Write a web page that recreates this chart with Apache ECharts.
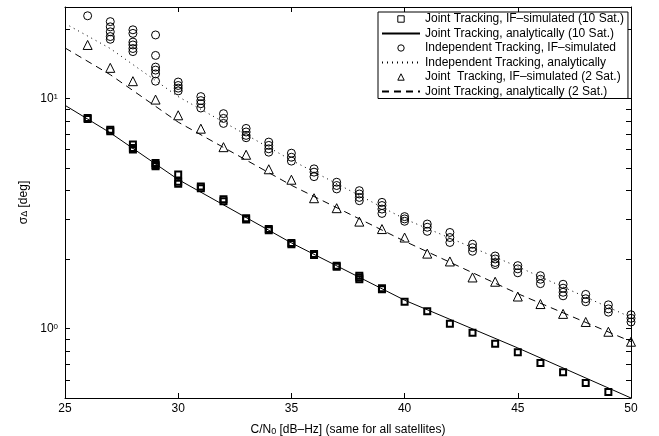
<!DOCTYPE html>
<html>
<head>
<meta charset="utf-8">
<script src="https://cdn.jsdelivr.net/npm/echarts@6.0.0/dist/echarts.min.js"></script>
<style>
html, body { margin: 0; padding: 0; background: #fff; }
#chart { width: 659px; height: 436px; }
</style>
</head>
<body>
<div id="chart"></div>
<script>
// C/N0 values of the simulated runs
var cn0 = [26, 27, 28, 29, 30, 31, 32, 33, 34, 35, 36, 37, 38, 39, 40, 41, 42, 43, 44, 45, 46, 47, 48, 49, 50];

// joint tracking, IF-simulated (10 Sat.) - several runs per C/N0
var joint10Sim = [
    [8.23, 8.15], [7.33, 7.22], [6.01, 6.32, 6.1], [5.08, 5.25, 5.15], [4.26, 4.68, 4.35],
    [4.08, 4.15], [3.58, 3.65], [2.98, 3.02], [2.71, 2.68], [2.33, 2.36],
    [2.11, 2.09], [1.88, 1.86], [1.67, 1.7, 1.64], [1.485, 1.5], [1.31],
    [1.19], [1.05], [0.96], [0.86], [0.79],
    [0.71], [0.647], [0.581], [0.531], [0.497]
];

// independent tracking, IF-simulated
var indepSim = [
    [22.9], [21.6, 20.5, 19.5, 18.6, 18.1], [19.9, 19.2, 17.6, 17.1, 16.5, 16.0], [18.9, 15.4, 13.7, 13.3, 12.8, 11.9], [11.8, 11.4, 11.1, 10.8],
    [10.2, 9.8, 9.5, 9.1], [8.6, 8.2, 7.8], [7.42, 7.16, 6.92, 6.76], [6.47, 6.26, 6.05, 5.85], [5.79, 5.56, 5.35],
    [4.95, 4.79, 4.58], [4.33, 4.19, 4.05], [3.98, 3.85, 3.72, 3.6], [3.54, 3.43, 3.31, 3.17], [3.07, 3.0, 2.93],
    [2.85, 2.76, 2.65], [2.62, 2.49, 2.37], [2.33, 2.25, 2.17], [2.07, 2.01, 1.94, 1.9], [1.88, 1.82, 1.75],
    [1.7, 1.64, 1.57], [1.56, 1.5, 1.44, 1.39], [1.41, 1.35, 1.31], [1.27, 1.22, 1.18], [1.15, 1.11, 1.07]
];

// joint tracking, IF-simulated (2 Sat.)
var joint2Sim = [17.1, 13.6, 11.9, 9.9, 8.46, 7.4, 6.15, 5.7, 4.93, 4.44, 3.69, 3.34, 2.92, 2.71, 2.49,
    2.12, 1.96, 1.67, 1.6, 1.38, 1.28, 1.16, 1.07, 0.97, 0.878];

// analytic curves
var anaCn0 = [25, 27, 30, 35, 40, 45, 50];
var joint10Ana = [9.35, 7.1, 4.45, 2.36, 1.33, 0.825, 0.5];
var indepAna = [21.2, 16.5, 10.2, 5.4, 3.0, 1.86, 1.12];
var joint2Ana = [16.6, 12.7, 7.9, 4.2, 2.4, 1.42, 0.88];

var yTicks = [0.6, 0.7, 0.8, 0.9, 1, 2, 3, 4, 5, 6, 7, 8, 9, 10, 20];

var FONT = 'Liberation Sans, Arial, sans-serif';

function toPairs (xs, ys) {
    var out = [];
    for (var i = 0; i < xs.length; i++) {
        var v = ys[i];
        if (Array.isArray(v)) {
            for (var j = 0; j < v.length; j++) out.push([xs[i], v[j]]);
        } else {
            out.push([xs[i], v]);
        }
    }
    return out;
}

function markerSeries (name, data, symbol, size, bw) {
    return {
        name: name, type: 'line', data: data,
        symbol: symbol, symbolSize: size, showSymbol: true,
        lineStyle: { opacity: 0, width: 0 },
        itemStyle: { color: 'rgba(0,0,0,0)', borderColor: '#000', borderWidth: bw },
        silent: true, animation: false, z: 3
    };
}

function curveSeries (name, data, type) {
    return {
        name: name, type: 'line', data: data, symbol: 'none',
        lineStyle: { color: '#000', width: 1, type: type },
        itemStyle: { color: '#000', opacity: 0 },
        silent: true, animation: false, z: 2
    };
}

var names = [
    'Joint Tracking, IF\u2013simulated (10 Sat.)',
    'Joint Tracking, analytically (10 Sat.)',
    'Independent Tracking, IF\u2013simulated',
    'Independent Tracking, analytically',
    'Joint  Tracking, IF\u2013simulated (2 Sat.)',
    'Joint Tracking, analytically (2 Sat.)'
];

var axisLine = { show: true, onZero: false, lineStyle: { color: '#000', width: 1 } };

var option = {
    backgroundColor: '#fff',
    textStyle: { fontFamily: FONT },
    animation: false,
    grid: { left: 65, right: 28, top: 7, bottom: 38, outerBoundsMode: 'none' },
    legend: {
        orient: 'vertical', left: 378, top: 12, selectedMode: false,
        backgroundColor: '#fff', borderColor: '#000', borderWidth: 1, borderRadius: 0,
        padding: [1, 4, 1, 3],
        itemWidth: 38, itemHeight: 8, itemGap: 2.5,
        itemStyle: { borderWidth: 1 },
        textStyle: { fontFamily: FONT, fontSize: 12, color: '#000', lineHeight: 12 },
        data: names
    },
    xAxis: [{
        type: 'value', min: 25, max: 50, interval: 5, position: 'bottom',
        axisLine: axisLine,
        axisTick: { inside: true, length: 5, lineStyle: { color: '#000' } },
        axisLabel: { color: '#000', fontSize: 12, margin: 5, fontFamily: FONT },
        splitLine: { show: false },
        name: '{n|C/N}{sub|0}{n| [dB\u2013Hz] (same for all satellites)}',
        nameLocation: 'middle', nameGap: 18,
        nameTextStyle: {
            color: '#000',
            rich: {
                n: { fontSize: 12, lineHeight: 12, verticalAlign: 'top', fontFamily: FONT, color: '#000' },
                sub: { fontSize: 9, lineHeight: 9, verticalAlign: 'bottom', padding: [7, 0, 0, 0], fontFamily: FONT, color: '#000' }
            }
        }
    }, {
        type: 'value', min: 25, max: 50, interval: 5, position: 'top',
        axisLine: axisLine,
        axisTick: { inside: true, length: 5, lineStyle: { color: '#000' } },
        axisLabel: { show: false },
        splitLine: { show: false }
    }],
    yAxis: [{
        type: 'log', logBase: 10, min: 0.5, max: 25, position: 'left',
        axisLine: axisLine,
        axisTick: { inside: true, length: 5, lineStyle: { color: '#000' }, customValues: yTicks },
        minorTick: { show: false },
        axisLabel: {
            margin: 7, color: '#000',
            formatter: function (v) {
                var l = Math.log(v) / Math.LN10;
                if (Math.abs(l - Math.round(l)) < 1e-6) {
                    return '{b|10}{s|' + Math.round(l) + '}';
                }
                return '';
            },
            rich: {
                b: { fontSize: 12, lineHeight: 12, verticalAlign: 'bottom', padding: [4, 0, 0, 0], fontFamily: FONT, color: '#000' },
                s: { fontSize: 8, lineHeight: 8, verticalAlign: 'top', fontFamily: FONT, color: '#000' }
            }
        },
        splitLine: { show: false },
        name: '{n|\u03c3}{sub|\u0394}{n| [deg]}',
        nameLocation: 'middle', nameGap: 34,
        nameTextStyle: {
            color: '#000',
            rich: {
                n: { fontSize: 12, lineHeight: 12, verticalAlign: 'top', fontFamily: FONT, color: '#000' },
                sub: { fontSize: 9, lineHeight: 9, verticalAlign: 'bottom', padding: [6, 0, 0, 0], fontFamily: FONT, color: '#000' }
            }
        }
    }, {
        type: 'log', logBase: 10, min: 0.5, max: 25, position: 'right',
        axisLine: axisLine,
        axisTick: { inside: true, length: 5, lineStyle: { color: '#000' }, customValues: yTicks },
        axisLabel: { show: false },
        splitLine: { show: false }
    }],
    series: [
        markerSeries(names[0], toPairs(cn0, joint10Sim), 'rect', 6, 2),
        curveSeries(names[1], toPairs(anaCn0, joint10Ana), 'solid'),
        markerSeries(names[2], toPairs(cn0, indepSim), 'circle', 8, 1),
        curveSeries(names[3], toPairs(anaCn0, indepAna), [1, 4]),
        markerSeries(names[4], toPairs(cn0, joint2Sim), 'triangle', 9, 1),
        curveSeries(names[5], toPairs(anaCn0, joint2Ana), [7, 5])
    ]
};

var chart = echarts.init(document.getElementById('chart'));
chart.setOption(option);
</script>
</body>
</html>
